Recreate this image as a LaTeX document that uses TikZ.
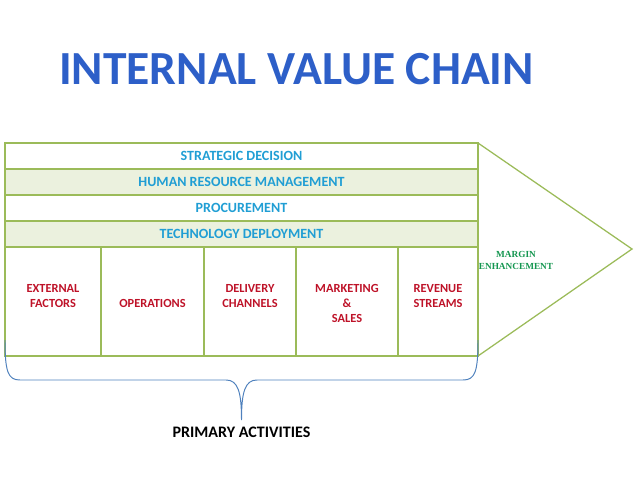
\documentclass[tikz,border=0pt]{standalone}
\usepackage{fontspec}
\setmainfont{Carlito}
\newfontfamily\marginfont{Liberation Serif}
\definecolor{chainborder}{RGB}{155,187,89}
\definecolor{chainfill}{RGB}{235,241,222}
\definecolor{supporttext}{RGB}{32,158,212}
\definecolor{primarytext}{RGB}{190,18,40}
\definecolor{margintext}{RGB}{20,150,80}
\definecolor{bracecol}{RGB}{79,129,189}
\definecolor{titleblue}{RGB}{45,95,200}
\tikzset{
  chainline/.style={draw=chainborder, line width=0.9pt},
  supportlabel/.style={inner sep=0pt, text=supporttext, font=\fontsize{10}{12}\selectfont\bfseries},
  primarylabel/.style={inner sep=0pt, anchor=north, align=center, text=primarytext, font=\fontsize{8.8}{10.7}\selectfont\bfseries}
}
\begin{document}
\begin{tikzpicture}[x=0.025cm, y=-0.025cm]
    \useasboundingbox (0,0) rectangle (638,479);
    % title
    \node[inner sep=0pt, text=titleblue, font=\fontsize{33.8}{38}\selectfont\bfseries] (title) at (296.5,69) {INTERNAL VALUE CHAIN};
    % support activities
    \draw[chainline] (5,143) rectangle (478,169);
    \draw[chainline, fill=chainfill] (5,169) rectangle (478,195);
    \draw[chainline] (5,195) rectangle (478,221);
    \draw[chainline, fill=chainfill] (5,221) rectangle (478,247);
    \node[supportlabel] (strategy) at (241.5,156) {STRATEGIC DECISION};
    \node[supportlabel] (hrm) at (241.5,182) {HUMAN RESOURCE MANAGEMENT};
    \node[supportlabel] (procure) at (241.5,208) {PROCUREMENT};
    \node[supportlabel] (techdev) at (241.5,234) {TECHNOLOGY DEPLOYMENT};
    % primary activities
    \draw[chainline] (5,247) rectangle (478,356);
    \foreach \xs in {101,204,296,398}
        \draw[chainline] (\xs,247) -- (\xs,356);
    \node[primarylabel] (external) at (53,284) {EXTERNAL\\FACTORS};
    \node[primarylabel] (operations) at (152.5,299) {OPERATIONS};
    \node[primarylabel] (delivery) at (250,284) {DELIVERY\\CHANNELS};
    \node[primarylabel] (marketing) at (347,284) {MARKETING\\\&\\SALES};
    \node[primarylabel] (revenue) at (438,284) {REVENUE\\STREAMS};
    % margin arrow
    \draw[chainline, line join=miter] (478,143) -- (632,249) -- (478,356);
    \node[inner sep=0pt, align=center, text=margintext, font=\marginfont\fontsize{6.6}{8.5}\selectfont\bfseries] (margin) at (516,260) {MARGIN\\ENHANCEMENT};
    % brace under the primary activities
    \coordinate (braceL) at (5,340);
    \coordinate (braceR) at (478,340);
    \coordinate (braceTip) at (241.5,420);
    \draw[bracecol, line width=0.7pt] (braceL) .. controls (5,372) and (8,380) .. (20,380) -- (226,380)
        .. controls (238,380) and (241.5,392) .. (braceTip)
        .. controls (241.5,392) and (245,380) .. (257,380) -- (463,380)
        .. controls (475,380) and (478,372) .. (braceR);
    \node[inner sep=0pt, font=\fontsize{11.4}{13}\selectfont\bfseries] (primary) at (241.5,432.5) {PRIMARY ACTIVITIES};
\end{tikzpicture}
\end{document}
